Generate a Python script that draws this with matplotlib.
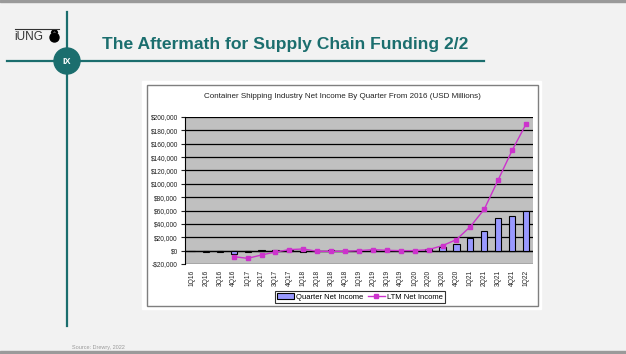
import matplotlib
matplotlib.use('Agg')
from matplotlib import pyplot as plt
from matplotlib.patches import Rectangle, Circle, Wedge
import numpy as np

# data
quarters = ['1Q16', '2Q16', '3Q16', '4Q16', '1Q17', '2Q17', '3Q17', '4Q17',
            '1Q18', '2Q18', '3Q18', '4Q18', '1Q19', '2Q19', '3Q19', '4Q19',
            '1Q20', '2Q20', '3Q20', '4Q20', '1Q21', '2Q21', '3Q21', '4Q21', '1Q22']
quarter_income = [-300, -2000, -2000, -4500, -1500, 1000, 1500, 1200,
                  -1500, -500, 500, -1000, 500, 1500, 1500, -1000,
                  -500, 2500, 6000, 10000, 19000, 29000, 49000, 52500, 60000]
ltm_income = [np.nan, np.nan, np.nan, -9000, -11500, -6500, -2000, 1500,
              2500, -1000, -1000, -1000, 0, 1500, 500, 0,
              0, 1500, 7500, 16500, 36000, 62000, 106000, 150000, 189500]
y_ticks = list(range(-20000, 200001, 20000))

TEAL = '#1b6e6e'
W, H = 626, 354

plt.rcParams['font.family'] = ['Liberation Sans', 'DejaVu Sans']
fig = plt.figure(figsize=(W / 100, H / 100), dpi=100)
fig.patch.set_facecolor('#f2f2f2')

# slide decoration in pixel coordinates
bg = fig.add_axes([0, 0, 1, 1])
bg.set_xlim(0, W)
bg.set_ylim(H, 0)
bg.axis('off')
bg.add_patch(Rectangle((0, 0), W, 2, color='#9a9a9a'))
bg.add_patch(Rectangle((0, 351), W, 3, color='#9a9a9a'))
bg.plot([67, 67], [12, 326], color=TEAL, lw=1.6)
bg.plot([7, 484], [61, 61], color=TEAL, lw=1.6)
bg.add_patch(Circle((67, 61), 13, color=TEAL, zorder=3))
bg.text(67, 61.5, 'IX', color='white', fontsize=6.5, fontweight='bold',
        ha='center', va='center', zorder=4)
# logo
bg.plot([15, 59], [29, 29], color='#333333', lw=0.8)
bg.text(14.5, 37, 'iUNG', color='#333333', fontsize=8.5, ha='left', va='center')
bg.add_patch(Circle((54.5, 37.5), 4.5, color='black'))
bg.add_patch(Wedge((54.5, 33), 3, 180, 360, width=1, color='black'))
bg.text(285.5, 44, 'The Aftermath for Supply Chain Funding 2/2', color=TEAL,
        fontsize=12.6, fontweight='bold', ha='center', va='center')
bg.text(98, 347, 'Source: Drewry, 2022', color='#9a9a9a', fontsize=4,
        ha='center', va='center')
# chart frame
bg.add_patch(Rectangle((142, 81), 399, 228, color='white'))
bg.add_patch(Rectangle((147, 85), 391, 221, fill=False, ec='#7f7f7f', lw=1))
bg.text(342, 96, 'Container Shipping Industry Net Income By Quarter From 2016 (USD Millions)',
        fontsize=5.8, ha='center', va='center', color='#222222')

# chart
ax = fig.add_axes([185 / W, 1 - 264 / H, (533 - 185) / W, (264 - 117) / H])
ax.set_facecolor('#c0c0c0')
x = np.arange(len(quarters))
bars = ax.bar(x, quarter_income, width=0.45, color='#9999ff', edgecolor='black',
              linewidth=0.8, label='Quarter Net Income', zorder=3)
line, = ax.plot(x, ltm_income, color='#cc33cc', lw=1, marker='s', markersize=3,
                label='LTM Net Income', zorder=4)
ax.set_xlim(-0.5, len(quarters) - 0.5)
ax.set_ylim(-20000, 200000)
ax.set_yticks(y_ticks)
ax.set_yticklabels(['-$20,000' if v < 0 else '${:,}'.format(v) for v in y_ticks])
ax.yaxis.grid(True, color='black', lw=0.9)
ax.set_axisbelow(True)
ax.axhline(0, color='black', lw=0.9, zorder=2)
ax.set_xticks(x)
ax.set_xticklabels(quarters, rotation=90)
ax.tick_params(axis='x', length=0, labelsize=4.8, pad=4, colors='#222222')
ax.tick_params(axis='y', length=3, labelsize=4.8, pad=2, colors='#222222')
for s in ['top', 'right', 'bottom']:
    ax.spines[s].set_visible(False)
ax.spines['left'].set_color('black')

leg = fig.legend([bars, line], ['Quarter Net Income', 'LTM Net Income'],
                 loc='center', bbox_to_anchor=(360 / W, 1 - 297 / H), ncol=2,
                 fontsize=5.5, frameon=True, fancybox=False, edgecolor='black',
                 handlelength=2.2, handletextpad=0.3, columnspacing=0.6,
                 borderpad=0.3)
leg.get_frame().set_linewidth(0.8)

plt.savefig('out.png', dpi=100, facecolor=fig.get_facecolor())
